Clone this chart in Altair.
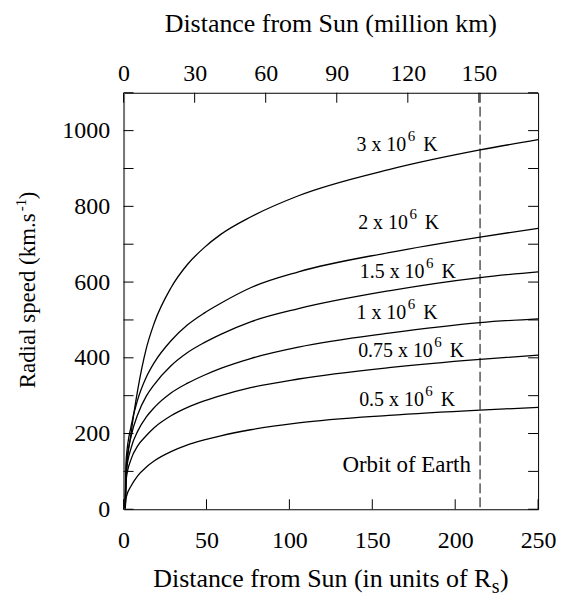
import altair as alt
import pandas as pd

# ---- data ----
r_rs = [1, 1.6, 4.6, 8.6, 13.6, 18.6, 28.6, 38.6, 48.6, 58.6, 76.6, 105.5, 160, 215, 250]
v_3 = [5, 89, 203, 317, 423, 493, 585, 647, 691, 726, 772, 828, 897, 949, 976]
v_2 = [4, 133, 221, 291, 348, 388, 445, 487, 518, 544, 585, 627, 678, 719, 742]
v_15 = [3, 115, 194, 251, 298, 330, 379, 414, 440, 462, 495, 530, 577, 612, 627]
v_1 = [3, 98, 163, 207, 243, 269, 307, 333, 354, 372, 398, 428, 465, 493, 503]
v_075 = [2, 80, 133, 168, 194, 216, 247, 269, 286, 300, 321, 344, 374, 396, 407]
v_05 = [2, 32, 62, 89, 111, 128, 152, 170, 183, 194, 210, 228, 248, 262, 269]

temps = ["3", "2", "1.5", "1", "0.75", "0.5"]
series = [v_3, v_2, v_15, v_1, v_075, v_05]
label_text = ["3 x 10", "2 x 10", "1.5 x 10", "1 x 10", "0.75 x 10", "0.5 x 10"]
label_r = [170.5, 171.5, 181.5, 170.5, 186.5, 181.1]
label_v = [945, 739, 610, 502, 401, 272]

earth_orbit_rs = [215]
orbit_label_r = [209.5]
orbit_label_v = [99]

x_ticks_rs = [0, 50, 100, 150, 200, 250]
x_ticks_mkm = [0, 30, 60, 90, 120, 150]
mkm_max = 175
y_ticks = list(range(0, 1101, 100))
y_labels = list(range(0, 1001, 200))

W, H = 416, 418
FONT = "Liberation Serif, Times New Roman, serif"

rows = []
for t, vals in zip(temps, series):
    for r, v in zip(r_rs, vals):
        rows.append({"T": t, "r": r, "v": v})
df_lines = pd.DataFrame(rows)

X_RS = alt.X("r:Q", scale=alt.Scale(domain=[0, 250], nice=False),
             axis=alt.Axis(values=x_ticks_rs, ticks=False, tickSize=0, domain=False, grid=False,
                           labelFont=FONT, labelFontSize=24, labelPadding=19, labelFlush=False,
                           labelOverlap=False, title=None, labelColor="black", format="d"))
Y_V = alt.Y("v:Q", scale=alt.Scale(domain=[0, 1100], nice=False),
            axis=alt.Axis(values=y_labels, ticks=False, tickSize=0, domain=True, domainColor="#777777",
                          domainWidth=2, grid=False, labelFont=FONT, labelFontSize=24, labelPadding=14,
                          labelOverlap=False, title=None, labelColor="black", format="d"))

lines = alt.Chart(df_lines).mark_line(color="black", strokeWidth=1.3, interpolate="monotone").encode(
    x=X_RS, y=Y_V, detail="T:N")

orbit = alt.Chart(pd.DataFrame({"r": earth_orbit_rs})).mark_rule(
    color="black", strokeWidth=1, strokeDash=[10, 4]).encode(x=X_RS)

bottom_ticks = alt.Chart(pd.DataFrame({"r": x_ticks_rs})).mark_rule(color="black", strokeWidth=1).encode(
    x=X_RS, y=alt.value(H), y2=alt.value(H - 10))
left_ticks = alt.Chart(pd.DataFrame({"v": y_ticks})).mark_rule(color="black", strokeWidth=1).encode(
    y=Y_V, x=alt.value(0), x2=alt.value(10))
right_ticks = alt.Chart(pd.DataFrame({"v": y_ticks})).mark_rule(color="black", strokeWidth=1).encode(
    y=Y_V, x=alt.value(W), x2=alt.value(W - 10))

df_lab = pd.DataFrame({"r": label_r, "v": label_v, "t": label_text})
lab_base = alt.Chart(df_lab).mark_text(align="right", baseline="alphabetic", fontSize=20, color="black",
                                       font=FONT).encode(x=X_RS, y=Y_V, text="t:N")
lab_sup = alt.Chart(df_lab).mark_text(align="left", baseline="alphabetic", fontSize=15, dx=1.5, dy=-10,
                                      color="black", text="6", font=FONT).encode(x=X_RS, y=Y_V)
lab_k = alt.Chart(df_lab).mark_text(align="left", baseline="alphabetic", fontSize=20, dx=17,
                                    color="black", text="K", font=FONT).encode(x=X_RS, y=Y_V)

orbit_lab = alt.Chart(pd.DataFrame({"r": orbit_label_r, "v": orbit_label_v, "t": ["Orbit of Earth"]})).mark_text(
    align="right", baseline="alphabetic", fontSize=23, color="black", font=FONT).encode(x=X_RS, y=Y_V, text="t:N")

one = pd.DataFrame({"k": [0]})
top_title = alt.Chart(one).mark_text(align="center", baseline="alphabetic", fontSize=26, color="black", font=FONT,
                                     text="Distance from Sun (million km)").encode(
    x=alt.value(208), y=alt.value(-60.5))
bot_title = alt.Chart(one).mark_text(align="right", baseline="alphabetic", fontSize=26, color="black", font=FONT,
                                     text="Distance from Sun (in units of R").encode(
    x=alt.value(369), y=alt.value(496))
bot_sub = alt.Chart(one).mark_text(align="left", baseline="alphabetic", fontSize=20, color="black", font=FONT,
                                   text="s", dx=0.5, dy=6).encode(x=alt.value(369), y=alt.value(496))
bot_par = alt.Chart(one).mark_text(align="left", baseline="alphabetic", fontSize=26, color="black", font=FONT,
                                   text=")", dx=8.8).encode(x=alt.value(369), y=alt.value(496))
y_title = alt.Chart(one).mark_text(align="right", baseline="alphabetic", fontSize=23, angle=270, color="black",
                                   font=FONT, text="Radial speed (km.s").encode(x=alt.value(-89), y=alt.value(121))
y_sup = alt.Chart(one).mark_text(align="left", baseline="alphabetic", fontSize=15, angle=270, color="black",
                                 font=FONT, text="-1", dx=2, dy=-9).encode(x=alt.value(-89), y=alt.value(121))
y_par = alt.Chart(one).mark_text(align="left", baseline="alphabetic", fontSize=23, angle=270, color="black",
                                 font=FONT, text=")", dx=14).encode(x=alt.value(-89), y=alt.value(121))

inner = alt.layer(lines, orbit, bottom_ticks, left_ticks, right_ticks, lab_base, lab_sup, lab_k, orbit_lab,
                  top_title, bot_title, bot_sub, bot_par, y_title, y_sup, y_par)

top = alt.Chart(pd.DataFrame({"mkm": x_ticks_mkm})).mark_rule(color="black", strokeWidth=1).encode(
    x=alt.X("mkm:Q", scale=alt.Scale(domain=[0, mkm_max], nice=False),
            axis=alt.Axis(orient="top", values=x_ticks_mkm, ticks=False, tickSize=0, domain=False, grid=False,
                          labelFont=FONT, labelFontSize=24, labelPadding=7, labelFlush=False,
                          labelOverlap=False, title=None, labelColor="black", format="d")),
    y=alt.value(0), y2=alt.value(10))

chart = alt.layer(inner, top).resolve_scale(x="independent").properties(
    width=W, height=H,
    padding={"left": 116, "top": 84, "right": 25, "bottom": 88},
    autosize=alt.AutoSizeParams(type="none"),
).configure_view(stroke="black", strokeWidth=1).configure_axis(
    labelFont=FONT).configure_text(font=FONT)

chart.save("out.html", embed_options={"renderer": "svg", "actions": False})
